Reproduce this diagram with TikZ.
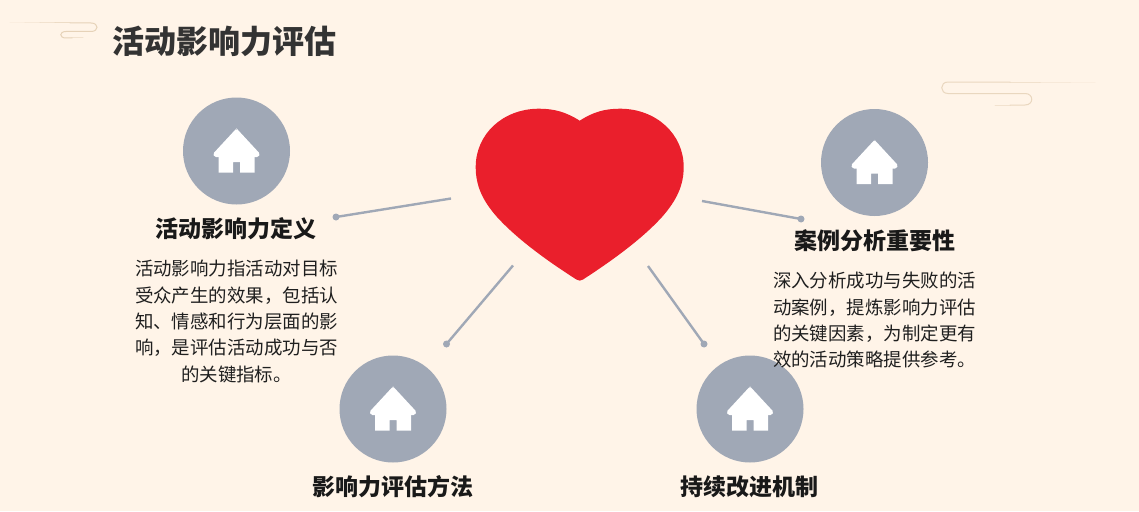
\documentclass[tikz,border=0pt]{standalone}
\usepackage{fontspec}
\setmainfont{Noto Sans CJK SC}
\definecolor{bgc}{HTML}{FFF4E8}
\definecolor{slate}{HTML}{A0A8B6}
\definecolor{heartc}{HTML}{EA1F2C}
\definecolor{titlec}{HTML}{333333}
\definecolor{swirl}{HTML}{E6D2B8}
\tikzset{
  iconball/.style={circle,fill=slate,draw=none,minimum size=107pt,inner sep=0pt},
  headtext/.style={font=\fontsize{23}{26}\selectfont\bfseries,text=black!90,inner sep=0pt},
  bodytext/.style={font=\fontsize{18.45}{26.4}\selectfont,text=black!88,inner sep=0pt,align=center},
  tipdot/.style={circle,fill=slate,draw=none,minimum size=7pt,inner sep=0pt},
  spoke/.style={draw=slate,line width=2.4pt},
  swirlline/.style={draw=swirl,line width=1pt,line cap=round},
  pics/homeicon/.style={code={
    \fill[white] (-18,21.5) -- (-3.5,21.5) -- (-3.5,11) -- (3.5,11) -- (3.5,21.5) -- (18,21.5) -- (18,5) -- (-18,5) -- cycle;
    \fill[white,rounded corners=1.5pt] (-23.5,2.8) -- (-1,-21.5) -- (0,-22.5) -- (1,-21.5) -- (23.5,2.8) -- (22,6) -- (-22,6) -- cycle;
  }}
}
\begin{document}
\begin{tikzpicture}[x=1pt,y=-1pt]
\fill[bgc] (0,0) rectangle (1139,511);
\useasboundingbox (0,0) rectangle (1139,511);

% swirl decorations
\begin{scope}[swirlline]
\foreach \a/\b/\o in {10/25/.15,25/40/.3,40/55/.5,55/70/.7}{\draw[opacity=\o] (\a,23) -- (\b,23);}
\draw (70,23) -- (91,23) .. controls (99,23) and (99,31.5) .. (91,31.5) -- (66,31.5) .. controls (59,31.5) and (59,38) .. (66,38) -- (72,38);
\draw[opacity=.5] (72,38) -- (83,38);
\foreach \a/\b/\o in {1095/1070/.15,1070/1040/.3,1040/1010/.55}{\draw[opacity=\o] (\a,82) -- (\b,82);}
\draw[opacity=.85] (1010,82) -- (948,82) .. controls (939.6,82) and (939.6,93.5) .. (948,93.5) -- (1025,93.5) .. controls (1034,93.5) and (1034,105) .. (1025,105) -- (1010,105);
\draw[opacity=.5] (1010,105) -- (995,105);
\end{scope}

\node[anchor=west,inner sep=0pt,text=titlec,font=\fontsize{32}{36}\selectfont\bfseries] (title) at (112,41) {活动影响力评估};

% heart
\fill[heartc] (579.7,120.7)
  .. controls (593,112) and (605,108.7) .. (620,108.7)
  .. controls (656,108.7) and (683.7,134) .. (683.7,167)
  .. controls (683.7,185) and (677,200) .. (662,217)
  .. controls (641,240) and (610,262) .. (583,279.5)
  .. controls (581,281) and (578.4,281) .. (576.4,279.5)
  .. controls (549,262) and (518,240) .. (497,217)
  .. controls (482,200) and (475.7,185) .. (475.7,167)
  .. controls (475.7,134) and (503,108.7) .. (539,108.7)
  .. controls (554,108.7) and (566,112) .. (579.7,120.7) -- cycle;

% icon balls
\node[iconball] (b1) at (236.5,151) {};
\node[iconball] (b2) at (874.5,162.5) {};
\node[iconball] (b3) at (393,409) {};
\node[iconball] (b4) at (750,409) {};
\pic at (b1.center) {homeicon};
\pic at (b2.center) {homeicon};
\pic at (b3.center) {homeicon};
\pic at (b4.center) {homeicon};

% spokes
\coordinate (s1) at (451,198.5);
\coordinate (s2) at (702,201);
\coordinate (s3) at (513,265.5);
\coordinate (s4) at (648,266);
\node[tipdot] (d1) at (336,217) {};
\node[tipdot] (d2) at (801,219) {};
\node[tipdot] (d3) at (446.5,344) {};
\node[tipdot] (d4) at (704,344) {};
\draw[spoke] (s1) -- (d1.center);
\draw[spoke] (s2) -- (d2.center);
\draw[spoke] (s3) -- (d3.center);
\draw[spoke] (s4) -- (d4.center);

% headings
\node[headtext] (h1) at (236,229) {活动影响力定义};
\node[headtext] (h2) at (874.5,241) {案例分析重要性};
\node[headtext] (h3) at (393,487) {影响力评估方法};
\node[headtext] (h4) at (749.5,487) {持续改进机制};

% bodies
\node[bodytext,anchor=north] (t1) at (236.5,260) {活动影响力指活动对目标\\受众产生的效果，包括认\\知、情感和行为层面的影\\响，是评估活动成功与否\\的关键指标。};
\node[bodytext,anchor=north] (t2) at (874.5,272) {深入分析成功与失败的活\\动案例，提炼影响力评估\\的关键因素，为制定更有\\效的活动策略提供参考。};
\end{tikzpicture}
\end{document}
